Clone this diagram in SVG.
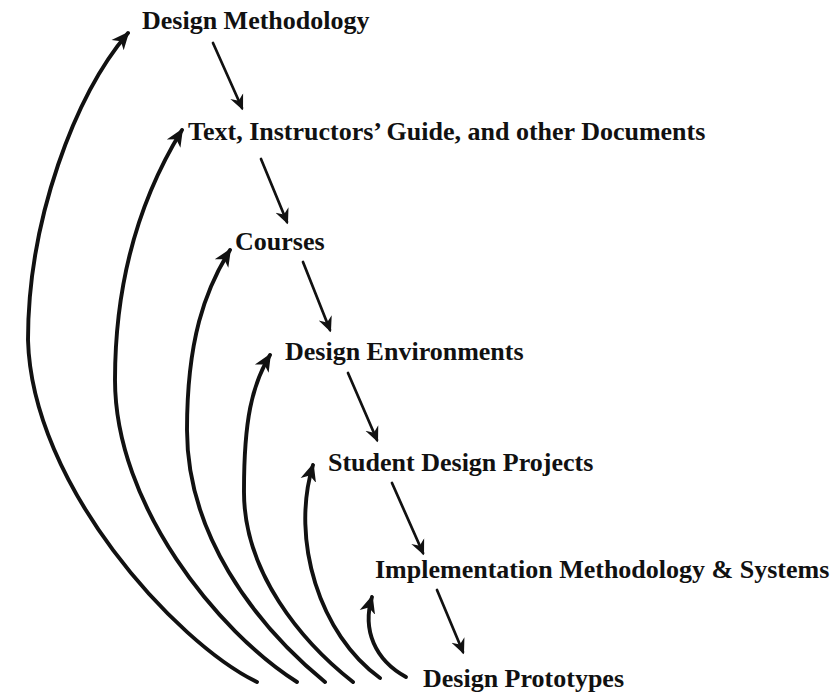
<svg xmlns="http://www.w3.org/2000/svg" width="833" height="694" viewBox="0 0 833 694">
  <style>
    .lbl { font-family: "Liberation Serif", "Times New Roman", serif; font-weight: bold; font-size: 26px; fill: #111; }
    .down { fill: none; stroke: #111; stroke-width: 2.7; stroke-linecap: round; }
    .back { fill: none; stroke: #111; stroke-width: 3.9; stroke-linecap: round; }
  </style>
  <defs>
    <marker id="headThin" markerUnits="userSpaceOnUse" viewBox="0 -8 16 16" markerWidth="16" markerHeight="16" refX="13" refY="0" orient="auto">
      <path d="M15.5,0 L0,-7 L5,0 L0,7 z" fill="#111"/>
    </marker>
    <marker id="headThick" markerUnits="userSpaceOnUse" viewBox="0 -10 20 20" markerWidth="20" markerHeight="20" refX="16" refY="0" orient="auto">
      <path d="M18,0 L0,-8 L5,0 L0,8 z" fill="#111"/>
    </marker>
  </defs>
  <rect width="833" height="694" fill="#fff"/>

  <g id="connectors">
    <!-- forward (downward) arrows -->
    <path class="down" d="M213,43 L242,108" marker-end="url(#headThin)"/>
    <path class="down" d="M261,159 L287,222" marker-end="url(#headThin)"/>
    <path class="down" d="M303,262 L330,330" marker-end="url(#headThin)"/>
    <path class="down" d="M348,373 L377,440" marker-end="url(#headThin)"/>
    <path class="down" d="M392,483 L423,553" marker-end="url(#headThin)"/>
    <path class="down" d="M437,590 L463,652" marker-end="url(#headThin)"/>
    <!-- feedback (curved) arrows from Design Prototypes -->
    <path class="back" d="M257,682 C175,642 32,485 28,340 C28,220 75,95 128,33" marker-end="url(#headThick)"/>
    <path class="back" d="M297,682 C218,632 115,505 115,380 C115,270 145,190 182,130" marker-end="url(#headThick)"/>
    <path class="back" d="M325,682 C252,622 187,532 187,430 C187,340 205,290 230,250" marker-end="url(#headThick)"/>
    <path class="back" d="M353,682 C302,642 243,572 244,490 C244,420 252,385 270,355" marker-end="url(#headThick)"/>
    <path class="back" d="M380,678 C320,635 290,540 313,465" marker-end="url(#headThick)"/>
    <path class="back" d="M406,677 C375,660 362,630 372,597" marker-end="url(#headThick)"/>
  </g>

  <g id="node-design-methodology"><text class="lbl" x="142" y="29">Design Methodology</text></g>
  <g id="node-text-documents"><text class="lbl" x="188" y="140">Text, Instructors’ Guide, and other Documents</text></g>
  <g id="node-courses"><text class="lbl" x="235" y="250">Courses</text></g>
  <g id="node-design-environments"><text class="lbl" x="285" y="360">Design Environments</text></g>
  <g id="node-student-projects"><text class="lbl" x="328" y="471">Student Design Projects</text></g>
  <g id="node-implementation"><text class="lbl" x="375" y="578">Implementation Methodology &amp; Systems</text></g>
  <g id="node-prototypes"><text class="lbl" x="423" y="687">Design Prototypes</text></g>
</svg>
